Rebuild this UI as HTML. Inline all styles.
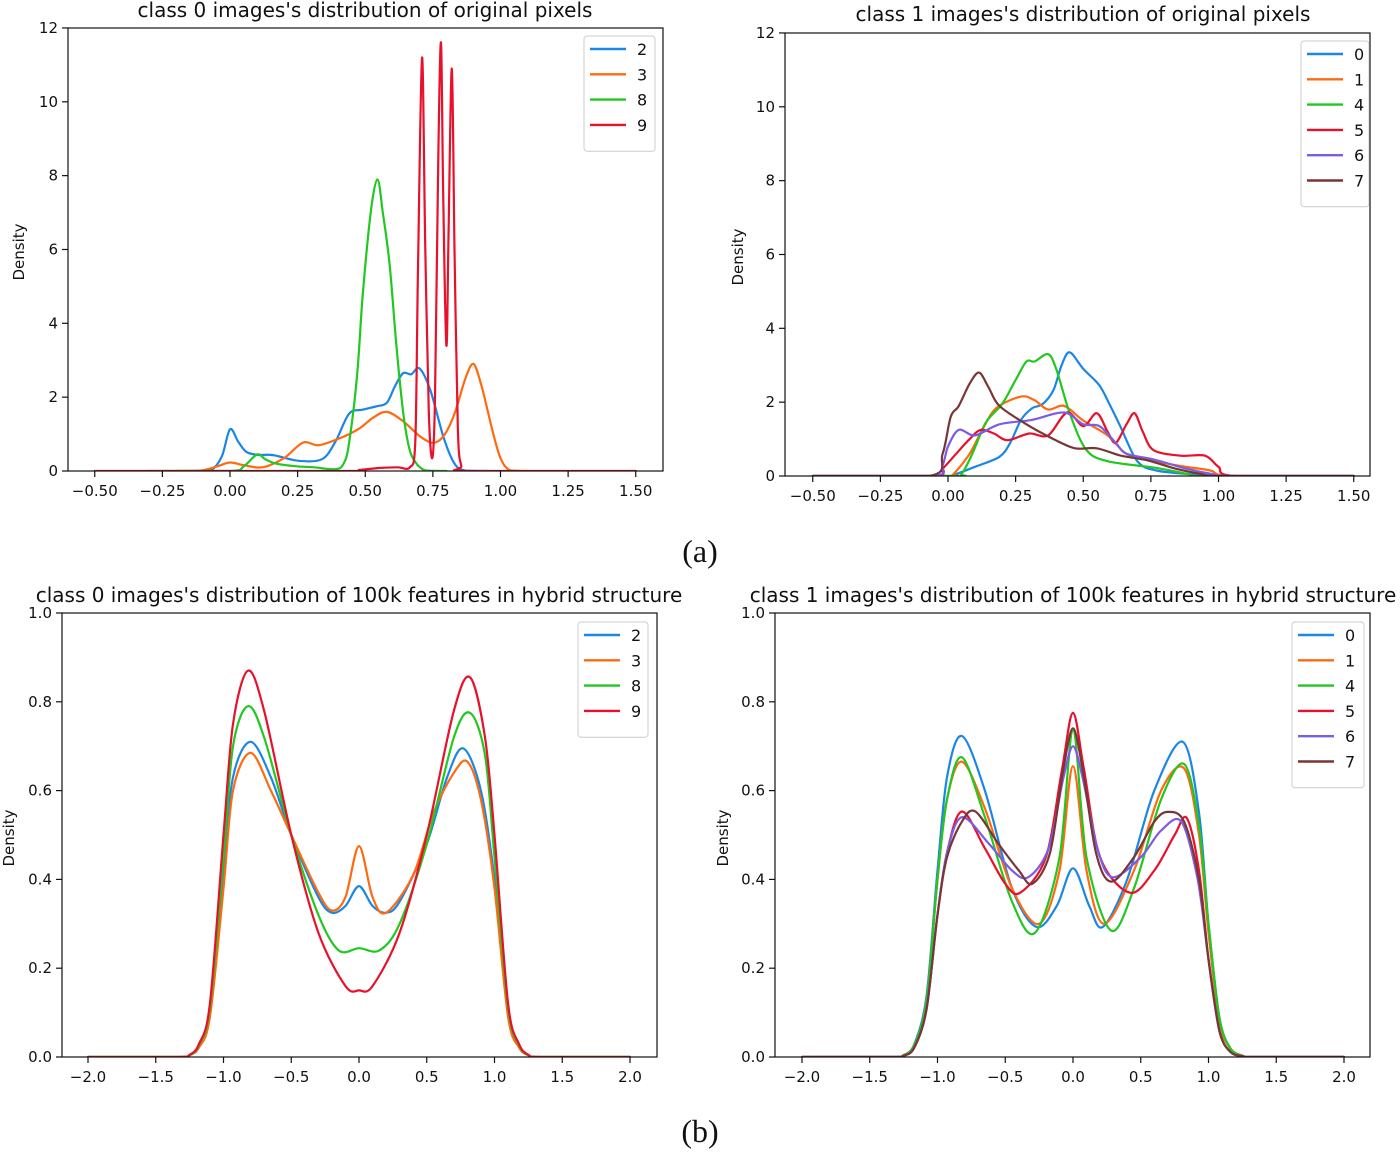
<!DOCTYPE html>
<html><head><meta charset="utf-8"><style>
body{margin:0;background:#fff;}
svg text{font-family:"DejaVu Sans","Liberation Sans",sans-serif;fill:#111;}
</style></head><body>
<svg id="fig" width="1400" height="1150" xmlns="http://www.w3.org/2000/svg">
<text x="700" y="562" text-anchor="middle" font-size="32" style="font-family:'Liberation Serif',serif">(a)</text>
<text x="700" y="1142" text-anchor="middle" font-size="32" style="font-family:'Liberation Serif',serif">(b)</text>
</svg>
<script>
const colors = {"0":"#1a86e8","1":"#ff6a10","2":"#1a86e8","3":"#ff6a10","4":"#20c820","5":"#e8102a","6":"#7b5ce6","7":"#7a3636","8":"#20c820","9":"#e8102a"};

// Panel A: class 0, original pixels
const aSeries = ["2","3","8","9"];
const aData = {
"2":[[-0.12,0],[-0.07,0.02],[-0.03,0.4],[0.0,1.13],[0.03,0.8],[0.06,0.52],[0.1,0.44],[0.16,0.43],[0.25,0.28],[0.34,0.32],[0.39,0.8],[0.44,1.55],[0.49,1.66],[0.54,1.75],[0.58,1.85],[0.61,2.3],[0.64,2.65],[0.67,2.62],[0.70,2.78],[0.74,2.2],[0.79,0.9],[0.83,0.2],[0.87,0.01],[0.95,0]],
"3":[[-0.2,0],[-0.11,0.01],[-0.05,0.12],[0.0,0.23],[0.05,0.16],[0.12,0.1],[0.2,0.35],[0.27,0.77],[0.33,0.7],[0.42,0.93],[0.48,1.16],[0.53,1.45],[0.58,1.6],[0.64,1.35],[0.70,0.95],[0.75,0.76],[0.79,0.95],[0.83,1.55],[0.87,2.5],[0.90,2.9],[0.93,2.3],[0.97,1.1],[1.0,0.35],[1.035,0.02],[1.1,0]],
"8":[[-0.3,0],[0.0,0],[0.05,0.12],[0.10,0.45],[0.13,0.32],[0.17,0.2],[0.24,0.13],[0.31,0.1],[0.39,0.05],[0.42,0.2],[0.44,0.75],[0.47,2.6],[0.49,4.7],[0.52,7.0],[0.545,7.9],[0.565,7.0],[0.59,5.6],[0.615,3.4],[0.64,1.6],[0.66,0.7],[0.68,0.3],[0.72,0.02],[0.8,0]],
"9":[[-0.5,0],[0.4,0],[0.48,0.03],[0.55,0.08],[0.62,0.1],[0.665,0.1],[0.685,0.8],[0.695,5.5],[0.71,11.2],[0.722,6.0],[0.735,1.6],[0.748,0.35],[0.758,2.0],[0.77,8.5],[0.78,11.6],[0.788,7.5],[0.8,3.4],[0.808,6.5],[0.82,10.9],[0.83,6.0],[0.842,1.2],[0.855,0.15],[0.88,0],[1.5,0]]
};
// Panel B: class 1, original pixels
const bSeries = ["0","1","4","5","6","7"];
const bData = {
"0":[[-0.5,0],[-0.02,0],[0.02,0.03],[0.1,0.25],[0.19,0.52],[0.23,0.9],[0.27,1.52],[0.31,1.83],[0.35,1.95],[0.39,2.33],[0.42,3.0],[0.45,3.35],[0.5,2.9],[0.56,2.45],[0.6,1.9],[0.64,1.3],[0.7,0.4],[0.77,0.15],[0.9,0.05],[1.0,0.02],[1.05,0],[1.5,0]],
"1":[[-0.5,0],[0.0,0],[0.02,0.05],[0.08,0.6],[0.13,1.3],[0.18,1.85],[0.27,2.15],[0.32,2.05],[0.37,1.8],[0.43,1.9],[0.5,1.5],[0.59,1.1],[0.66,0.6],[0.76,0.4],[0.88,0.25],[0.97,0.15],[1.05,0],[1.5,0]],
"4":[[-0.5,0],[0.02,0],[0.05,0.05],[0.09,0.6],[0.14,1.45],[0.2,1.95],[0.25,2.6],[0.29,3.1],[0.32,3.1],[0.37,3.3],[0.4,2.9],[0.45,1.7],[0.51,0.72],[0.59,0.4],[0.77,0.22],[0.89,0.05],[0.95,0],[1.5,0]],
"5":[[-0.5,0],[-0.06,0],[-0.02,0.2],[0.03,0.6],[0.08,1.0],[0.12,1.25],[0.17,1.15],[0.22,0.97],[0.30,1.15],[0.37,1.1],[0.44,1.72],[0.5,1.35],[0.55,1.7],[0.59,1.2],[0.62,0.9],[0.66,1.4],[0.69,1.7],[0.72,1.2],[0.76,0.7],[0.86,0.55],[0.95,0.55],[1.0,0.25],[1.06,0],[1.5,0]],
"6":[[-0.5,0],[-0.06,0],[-0.02,0.3],[0.0,0.8],[0.04,1.25],[0.1,1.1],[0.19,1.4],[0.31,1.52],[0.43,1.72],[0.5,1.4],[0.56,1.35],[0.62,0.9],[0.66,0.6],[0.76,0.45],[0.88,0.2],[0.98,0.05],[1.05,0],[1.5,0]],
"7":[[-0.5,0],[-0.07,0],[-0.02,0.6],[0.01,1.6],[0.04,1.9],[0.08,2.5],[0.115,2.8],[0.15,2.4],[0.19,1.9],[0.29,1.4],[0.39,1.0],[0.47,0.75],[0.55,0.75],[0.64,0.55],[0.74,0.42],[0.84,0.2],[0.94,0.05],[1.0,0],[1.5,0]]
};
// Panel C: class 0, hybrid features
const cSeries = ["2","3","8","9"];
const cData = {
"2":[[-2,0],[-1.35,0],[-1.25,0.004],[-1.18,0.025],[-1.1,0.1],[-1.0,0.42],[-0.93,0.63],[-0.8,0.71],[-0.65,0.63],[-0.5,0.5],[-0.3,0.36],[-0.2,0.325],[-0.1,0.34],[0,0.385],[0.1,0.34],[0.2,0.325],[0.3,0.35],[0.5,0.48],[0.65,0.63],[0.77,0.695],[0.9,0.6],[1.0,0.4],[1.1,0.1],[1.18,0.025],[1.25,0.004],[1.35,0],[2,0]],
"3":[[-2,0],[-1.35,0],[-1.25,0.004],[-1.18,0.022],[-1.1,0.09],[-1.0,0.38],[-0.93,0.6],[-0.8,0.685],[-0.65,0.6],[-0.5,0.5],[-0.3,0.37],[-0.2,0.33],[-0.1,0.36],[0,0.475],[0.1,0.36],[0.2,0.325],[0.4,0.41],[0.55,0.55],[0.7,0.64],[0.8,0.665],[0.9,0.58],[1.0,0.38],[1.1,0.09],[1.18,0.022],[1.25,0.004],[1.35,0],[2,0]],
"8":[[-2,0],[-1.35,0],[-1.25,0.004],[-1.18,0.027],[-1.1,0.11],[-1.0,0.45],[-0.93,0.7],[-0.82,0.79],[-0.7,0.72],[-0.5,0.5],[-0.3,0.32],[-0.15,0.24],[0,0.245],[0.15,0.24],[0.3,0.3],[0.5,0.48],[0.7,0.72],[0.82,0.775],[0.93,0.68],[1.0,0.45],[1.1,0.11],[1.18,0.027],[1.25,0.004],[1.35,0],[2,0]],
"9":[[-2,0],[-1.35,0],[-1.25,0.005],[-1.18,0.03],[-1.1,0.12],[-1.0,0.5],[-0.93,0.75],[-0.82,0.87],[-0.7,0.78],[-0.5,0.5],[-0.3,0.28],[-0.1,0.16],[0,0.15],[0.1,0.16],[0.3,0.28],[0.5,0.5],[0.7,0.78],[0.82,0.855],[0.93,0.72],[1.0,0.5],[1.1,0.12],[1.18,0.03],[1.25,0.005],[1.35,0],[2,0]]
};
// Panel D: class 1, hybrid features
const dSeries = ["0","1","4","5","6","7"];
const dData = {
"0":[[-2,0],[-1.35,0],[-1.25,0.004],[-1.17,0.03],[-1.08,0.14],[-1.0,0.42],[-0.93,0.63],[-0.82,0.723],[-0.65,0.6],[-0.45,0.38],[-0.27,0.293],[-0.12,0.34],[0,0.425],[0.12,0.34],[0.22,0.293],[0.4,0.4],[0.6,0.6],[0.81,0.71],[0.93,0.55],[1.0,0.3],[1.08,0.09],[1.16,0.02],[1.25,0.003],[1.35,0],[2,0]],
"1":[[-2,0],[-1.35,0],[-1.25,0.004],[-1.17,0.028],[-1.08,0.13],[-1.0,0.4],[-0.93,0.58],[-0.82,0.665],[-0.65,0.56],[-0.45,0.38],[-0.25,0.3],[-0.1,0.42],[0,0.655],[0.1,0.42],[0.23,0.30],[0.45,0.42],[0.65,0.6],[0.82,0.65],[0.93,0.5],[1.0,0.28],[1.08,0.08],[1.16,0.02],[1.25,0.003],[1.35,0],[2,0]],
"4":[[-2,0],[-1.35,0],[-1.25,0.004],[-1.17,0.028],[-1.08,0.13],[-1.0,0.4],[-0.93,0.58],[-0.82,0.675],[-0.65,0.54],[-0.45,0.35],[-0.28,0.28],[-0.1,0.45],[0,0.735],[0.1,0.45],[0.28,0.285],[0.45,0.38],[0.65,0.58],[0.82,0.66],[0.93,0.52],[1.0,0.3],[1.08,0.09],[1.16,0.02],[1.25,0.003],[1.35,0],[2,0]],
"5":[[-2,0],[-1.35,0],[-1.25,0.003],[-1.17,0.022],[-1.08,0.11],[-1.0,0.32],[-0.93,0.46],[-0.82,0.553],[-0.65,0.47],[-0.5,0.39],[-0.39,0.37],[-0.2,0.45],[-0.08,0.65],[0,0.775],[0.08,0.65],[0.2,0.45],[0.42,0.37],[0.6,0.42],[0.75,0.5],[0.84,0.538],[0.93,0.42],[1.0,0.22],[1.08,0.06],[1.16,0.012],[1.25,0.002],[1.35,0],[2,0]],
"6":[[-2,0],[-1.35,0],[-1.25,0.003],[-1.17,0.022],[-1.08,0.11],[-1.0,0.32],[-0.93,0.46],[-0.82,0.54],[-0.62,0.48],[-0.45,0.42],[-0.33,0.405],[-0.18,0.47],[-0.07,0.63],[0,0.70],[0.07,0.63],[0.18,0.47],[0.29,0.405],[0.5,0.45],[0.65,0.51],[0.80,0.53],[0.92,0.4],[1.0,0.22],[1.08,0.06],[1.16,0.012],[1.25,0.002],[1.35,0],[2,0]],
"7":[[-2,0],[-1.35,0],[-1.25,0.003],[-1.17,0.022],[-1.08,0.11],[-1.0,0.32],[-0.93,0.45],[-0.82,0.53],[-0.72,0.553],[-0.55,0.48],[-0.4,0.42],[-0.3,0.39],[-0.17,0.46],[-0.07,0.65],[0,0.74],[0.07,0.65],[0.17,0.46],[0.28,0.395],[0.45,0.45],[0.60,0.53],[0.70,0.552],[0.82,0.53],[0.93,0.4],[1.0,0.22],[1.08,0.06],[1.16,0.012],[1.25,0.002],[1.35,0],[2,0]]
};
const aXTicks = ["−0.50","−0.25","0.00","0.25","0.50","0.75","1.00","1.25","1.50"];
const aXVals = [-0.5,-0.25,0,0.25,0.5,0.75,1,1.25,1.5];
const aYVals = [0,2,4,6,8,10,12];
const cXTicks = ["−2.0","−1.5","−1.0","−0.5","0.0","0.5","1.0","1.5","2.0"];
const cXVals = [-2,-1.5,-1,-0.5,0,0.5,1,1.5,2];
const cYVals = [0,0.2,0.4,0.6,0.8,1.0];

const NS = "http://www.w3.org/2000/svg";
const svg = document.getElementById('fig');
function mk(tag, attrs, parent, text){
  const e = document.createElementNS(NS, tag);
  for (const k in attrs) e.setAttribute(k, attrs[k]);
  if (text !== undefined) e.textContent = text;
  (parent||svg).appendChild(e);
  return e;
}
function panel(p){
  const g = mk('g', {});
  
  
  const xs = v => p.x0 + (v - p.xv0) * p.xk;
  const ys = v => p.yb - (v - 0) * p.yk;
  const clipId = p.name + '-clip';
  const cp = mk('clipPath', {id: clipId}, g);
  mk('rect', {x:p.L, y:p.T, width:p.R-p.L, height:p.B-p.T}, cp);
  const t = mk('text', {x:p.tx, y:p.ty, 'text-anchor':'middle', 'font-size':20}, g, p.title);
  
  
  const yl = mk('text', {x:0, y:0, 'text-anchor':'middle', 'font-size':15, transform:`translate(${p.ylx},${p.yly}) rotate(-90)`}, g, 'Density');
  
  
  p.xVals.forEach((v,i)=>{
    const x = xs(v);
    mk('line', {x1:x, x2:x, y1:p.B, y2:p.B+6, stroke:'#111', 'stroke-width':1.2}, g);
    const tl = mk('text', {x:x, y:p.B+25, 'text-anchor':'middle', 'font-size':15}, g, p.xLabels[i]);
    
    
  });
  p.yVals.forEach(v=>{
    const y = ys(v);
    mk('line', {x1:p.L-6, x2:p.L, y1:y, y2:y, stroke:'#111', 'stroke-width':1.2}, g);
    const tl = mk('text', {x:p.L-10, y:y+5, 'text-anchor':'end', 'font-size':15}, g, p.yFmt(v));
    
    
  });
  const cg = mk('g', {'clip-path':`url(#${clipId})`}, g);
  p.series.forEach(s=>{
    const pts = p.data[s].map(d=>[xs(d[0]), Math.min(ys(d[1]), p.B)]);
    let d = `M${pts[0][0]},${pts[0][1]}`;
    for (let i=0;i<pts.length-1;i++){
      const p0 = pts[Math.max(0,i-1)], p1 = pts[i], p2 = pts[i+1], p3 = pts[Math.min(pts.length-1,i+2)];
      const k = 0.16;
      const c1x = p1[0] + (p2[0]-p0[0])*k, c1y = Math.min(p1[1] + (p2[1]-p0[1])*k, p.B);
      const c2x = p2[0] - (p3[0]-p1[0])*k, c2y = Math.min(p2[1] - (p3[1]-p1[1])*k, p.B);
      d += ` C${c1x.toFixed(1)},${c1y.toFixed(1)} ${c2x.toFixed(1)},${c2y.toFixed(1)} ${p2[0].toFixed(1)},${p2[1].toFixed(1)}`;
    }
    const path = mk('path', {d:d, fill:'none', stroke:colors[s], 'stroke-width':2.2, 'stroke-linejoin':'round', 'stroke-linecap':'round'}, cg);
    
    
  });
  mk('rect', {x:p.L, y:p.T, width:p.R-p.L, height:p.B-p.T, fill:'none', stroke:'#111', 'stroke-width':1.2}, g);
  const lg = mk('g', {}, g);
  
  
  const lh = 14 + p.series.length*25.3;
  mk('rect', {x:p.lx, y:p.ly, width:p.lw, height:lh, rx:3, fill:'#fff', stroke:'#ccc', 'stroke-width':1}, lg);
  p.series.forEach((s,i)=>{
    const y = p.ly + 13 + i*25.3;
    const e = mk('g', {}, lg);
    
    
    mk('line', {x1:p.lx+6, x2:p.lx+42, y1:y, y2:y, stroke:colors[s], 'stroke-width':2.4}, e);
    mk('text', {x:p.lx+53, y:y+6, 'font-size':16}, e, s);
  });
}
panel({name:'panel-class0-pixels', L:68, R:663, T:28, B:471, x0:230, xv0:0, xk:270.5, yb:471, yk:36.92,
  xVals:aXVals, xLabels:aXTicks, yVals:aYVals, yFmt:v=>String(v), series:aSeries, data:aData,
  title:"class 0 images's distribution of original pixels", tx:365, ty:17, ylx:24, yly:252, lx:584, ly:36, lw:71});
panel({name:'panel-class1-pixels', L:785, R:1370, T:33, B:476, x0:948, xv0:0, xk:270.5, yb:476, yk:36.92,
  xVals:aXVals, xLabels:aXTicks, yVals:aYVals, yFmt:v=>String(v), series:bSeries, data:bData,
  title:"class 1 images's distribution of original pixels", tx:1083, ty:21, ylx:743, yly:257, lx:1301, ly:41, lw:68});
panel({name:'panel-class0-hybrid', L:62, R:657, T:613, B:1057, x0:359, xv0:0, xk:135.5, yb:1057, yk:444,
  xVals:cXVals, xLabels:cXTicks, yVals:cYVals, yFmt:v=>v.toFixed(1), series:cSeries, data:cData,
  title:"class 0 images's distribution of 100k features in hybrid structure", tx:359, ty:602, ylx:14, yly:838, lx:578, ly:622, lw:70});
panel({name:'panel-class1-hybrid', L:775, R:1370, T:613, B:1057, x0:1073, xv0:0, xk:135.5, yb:1057, yk:444,
  xVals:cXVals, xLabels:cXTicks, yVals:cYVals, yFmt:v=>v.toFixed(1), series:dSeries, data:dData,
  title:"class 1 images's distribution of 100k features in hybrid structure", tx:1073, ty:602, ylx:728, yly:838, lx:1292, ly:622, lw:72});
</script>
</body></html>
